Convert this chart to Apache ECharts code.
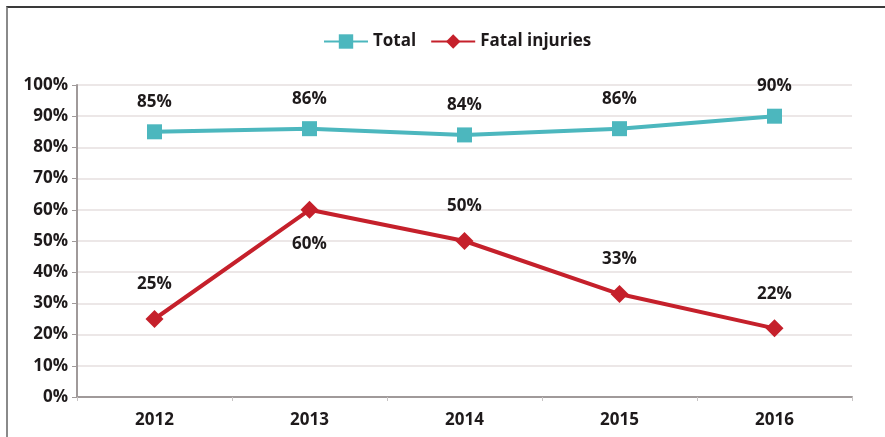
<!DOCTYPE html>
<html>
<head>
<meta charset="utf-8">
<script src="https://cdn.jsdelivr.net/npm/echarts@6/dist/echarts.min.js"></script>
<style>
    html, body { margin: 0; padding: 0; background: #fff; }
    #chart { width: 885px; height: 437px; }
    .frame {
        position: absolute; left: 6px; top: 6px; right: 0; bottom: 0;
        border-top: 2px solid #3a3a3a;
        border-left: 2px solid #8a8a8a;
        pointer-events: none;
    }
</style>
</head>
<body>
<div id="chart"></div>
<div class="frame"></div>
<script>
const years = ['2012', '2013', '2014', '2015', '2016'];
const totalValues = [85, 86, 84, 86, 90];
const fatalValues = [25, 60, 50, 33, 22];
// where each fatal label goes relative to its point
const fatalLabelPos = ['top', 'bottom', 'top', 'top', 'top'];

const font = 'Open Sans';
const textColor = '#1e1a1b';

const chart = echarts.init(document.getElementById('chart'));

const options = {
    animation: false,
    textStyle: { fontFamily: font },
    legend: {
        top: 28,
        left: 318,
        itemWidth: 44,
        itemHeight: 18,
        itemGap: 14,
        textStyle: { color: textColor, fontSize: 17, fontWeight: 'bold', fontFamily: font },
        data: ['Total', 'Fatal injuries']
    },
    grid: {
        left: 77,
        right: 33,
        top: 85,
        bottom: 40
    },
    xAxis: {
        type: 'category',
        data: years,
        axisLine: { lineStyle: { color: '#a09a9a', width: 2 } },
        axisTick: { show: true, length: 4, lineStyle: { color: '#c8c4c4' } },
        axisLabel: { color: textColor, fontSize: 17, fontWeight: 'bold', margin: 15, fontFamily: font }
    },
    yAxis: {
        type: 'value',
        min: 0,
        max: 100,
        interval: 10,
        axisLine: { show: true, lineStyle: { color: '#a09a9a', width: 2 } },
        axisTick: { show: true, length: 5, lineStyle: { color: '#a09a9a' } },
        axisLabel: {
            color: textColor, fontSize: 17, fontWeight: 'bold', margin: 9, fontFamily: font,
            formatter: '{value}%'
        },
        splitLine: { lineStyle: { color: '#e6dfdf', width: 1.5 } }
    },
    series: [
        {
            name: 'Total',
            type: 'line',
            data: totalValues,
            symbol: 'rect',
            symbolSize: 15,
            lineStyle: { color: '#4cb7be', width: 4 },
            itemStyle: { color: '#4cb7be' },
            label: {
                show: true,
                position: 'top',
                distance: 14,
                color: textColor,
                fontSize: 17,
                fontWeight: 'bold',
                fontFamily: font,
                formatter: '{c}%'
            }
        },
        {
            name: 'Fatal injuries',
            type: 'line',
            data: fatalValues.map((v, i) => ({
                value: v,
                label: { position: fatalLabelPos[i] }
            })),
            symbol: 'diamond',
            symbolSize: 18,
            lineStyle: { color: '#c5202b', width: 4 },
            itemStyle: { color: '#c5202b' },
            label: {
                show: true,
                distance: 17,
                color: textColor,
                fontSize: 17,
                fontWeight: 'bold',
                fontFamily: font,
                formatter: '{c}%'
            }
        }
    ]
};

chart.setOption(options);
</script>
</body>
</html>
